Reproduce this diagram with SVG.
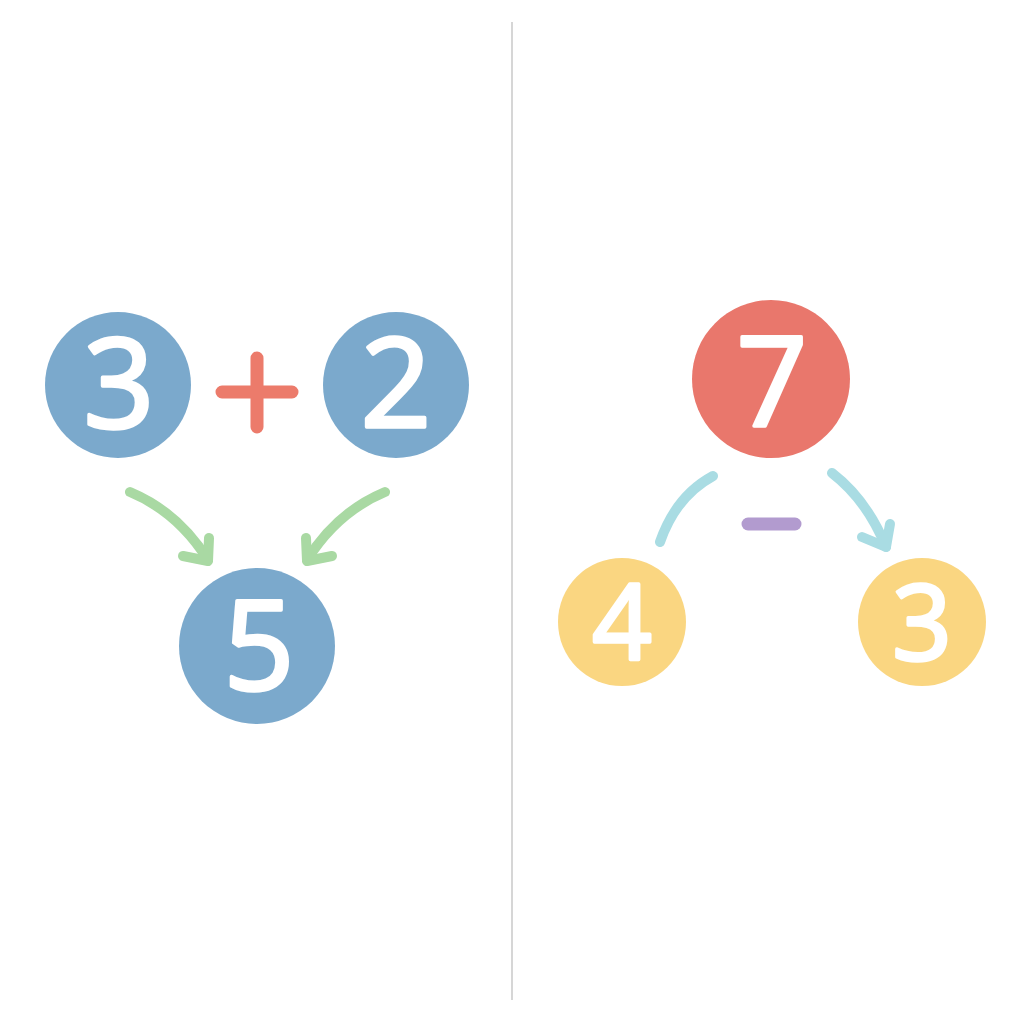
<svg xmlns="http://www.w3.org/2000/svg" width="1024" height="1024" viewBox="0 0 1024 1024">
<style>
.num{font-family:"Open Sans","Noto Sans","DejaVu Sans",sans-serif;font-weight:400;fill:#fff;stroke:#fff;stroke-width:3.5;stroke-linejoin:round;text-anchor:middle}
.blue{fill:#7BA9CC}
.yellow{fill:#FAD681}
.conn{fill:none;stroke-linecap:round;stroke-linejoin:round}
.green{stroke:#A9D9A3;stroke-width:10}
.cyan{stroke:#A9DCE3;stroke-width:10}
</style>
<rect width="1024" height="1024" fill="#fff"/>
<line x1="512" y1="22" x2="512" y2="1000" stroke="#D6D6D6" stroke-width="2"/>
<g id="node-3a"><circle class="blue" cx="118" cy="385" r="73"/><text class="num" x="119" y="428" font-size="124">3</text></g>
<g id="op-plus"><path d="M222,392 H292 M257,358 V427" stroke="#EC7B6B" stroke-width="13" stroke-linecap="round" fill="none"/></g>
<g id="node-2"><circle class="blue" cx="396" cy="385" r="73"/><text class="num" x="396" y="427" font-size="124">2</text></g>
<g id="node-5"><circle class="blue" cx="257" cy="646" r="78"/><text class="num" x="259" y="690" font-size="124">5</text></g>
<g id="node-7"><circle fill="#E9776C" cx="771" cy="379" r="79"/><text class="num" x="772" y="426" font-size="124">7</text></g>
<g id="op-minus"><path d="M748,524 H795" stroke="#B29BCF" stroke-width="13" stroke-linecap="round" fill="none"/></g>
<g id="node-4"><circle class="yellow" cx="622" cy="622" r="64"/><text class="num" x="622" y="659" font-size="104">4</text></g>
<g id="node-3b"><circle class="yellow" cx="922" cy="622" r="64"/><text class="num" x="922" y="660" font-size="104">3</text></g>
<g id="connectors">
<path class="conn green" d="M130,492 Q178,512 208,560"/>
<path class="conn green" d="M183,556 L208,561 L209,538"/>
<path class="conn green" d="M385,492 Q337,512 307,560"/>
<path class="conn green" d="M332,556 L307,561 L306,538"/>
<path class="conn cyan" d="M713,476 Q676,496 660,542"/>
<path class="conn cyan" d="M832,473 Q867,500 886,547"/>
<path class="conn cyan" d="M862,537 L886,547 L890,524"/>
</g>
</svg>
